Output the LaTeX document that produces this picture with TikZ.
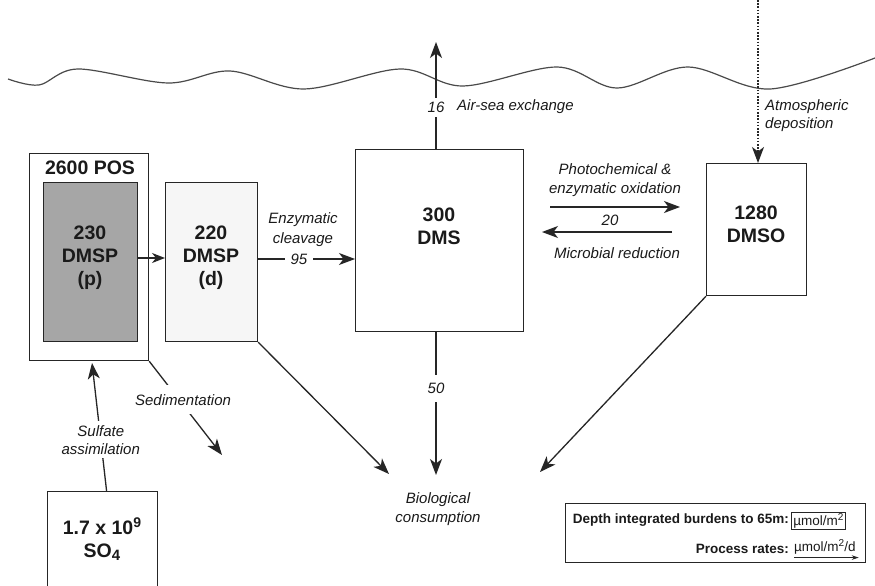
\documentclass[tikz,border=0pt]{standalone}
\usepackage{fontspec}
\setmainfont{Liberation Sans}
\usetikzlibrary{arrows.meta}
\definecolor{linec}{HTML}{262626}
\definecolor{shade}{HTML}{A6A6A6}
\definecolor{lightfill}{HTML}{F6F6F6}
\definecolor{txtc}{HTML}{1A1A1A}
\definecolor{wavec}{HTML}{4A4A4A}
\begin{document}
\begin{tikzpicture}[x=1pt,y=-1pt,
  box/.style={draw=linec, line width=1.2pt, inner sep=0pt, anchor=north west},
  boxtxt/.style={font=\fontsize{19.5}{23}\selectfont\bfseries, text=txtc, align=center, inner sep=0pt},
  arr/.style={-{Stealth[length=16pt,width=12pt,inset=4.5pt]}, line width=1.3pt, draw=linec},
  lbl/.style={font=\fontsize{15}{18.5}\selectfont\itshape, text=txtc, inner sep=1pt},
  onl/.style={lbl, fill=white, inner sep=4pt},
  legtxt/.style={font=\fontsize{13.5}{15}\selectfont\bfseries, text=txtc, inner sep=0pt},
  unittxt/.style={font=\fontsize{13.5}{15}\selectfont, text=txtc}
]
\fill[white] (0,0) rectangle (875,586);
\useasboundingbox (0,0) rectangle (875,586);

% sea surface
\draw[wavec, line width=1.2pt] plot[smooth, tension=0.55] coordinates
  {(8,79) (39,85) (78,69) (168,83) (230,71) (304,89) (400,69) (463,86) (557,67) (617,88) (688,67) (770,89) (875,58)};

% boxes
\node[box, minimum width=119pt, minimum height=207pt] (pos) at (29,153) {};
\node[box, fill=shade, minimum width=94pt, minimum height=159pt] (dmspp) at (43,182) {};
\node[box, fill=lightfill, minimum width=92pt, minimum height=159pt] (dmspd) at (165,182) {};
\node[box, minimum width=168pt, minimum height=182pt] (dms) at (355,149) {};
\node[box, minimum width=100pt, minimum height=132pt] (dmso) at (706,163) {};
\node[box, minimum width=110pt, minimum height=100pt] (so4) at (47,491) {};
\node[box, line width=1pt, minimum width=300pt, minimum height=59pt] (legend) at (565,503) {};

% box texts
\node[boxtxt] (posT) at (90,168) {2600 POS};
\node[boxtxt] (dmsppT) at (90,258) {230\\DMSP\\(p)};
\node[boxtxt] (dmspdT) at (211,258) {220\\DMSP\\(d)};
\node[boxtxt] (dmsT) at (439,226) {300\\DMS};
\node[boxtxt] (dmsoT) at (756,224) {1280\\DMSO};
\node[boxtxt] (so4T) at (102,539) {1.7 x 10\raisebox{7pt}{\fontsize{14}{14}\selectfont 9}\\SO\raisebox{-3pt}{\fontsize{15}{15}\selectfont 4}};

% DMSP(p) -> DMSP(d)
\draw[arr, -{Stealth[length=13pt,width=10pt,inset=4pt]}] (dmspp.east |- 0,258) -- (dmspd.west |- 0,258);

% enzymatic cleavage
\draw[arr] (dmspd.east |- 0,259) -- node[onl, pos=0.42, inner xsep=6pt, inner ysep=2pt] {95} (dms.west |- 0,259);
\node[lbl, align=center, font=\fontsize{15}{20}\selectfont\itshape] (enzT) at (303,230) {Enzymatic\\cleavage};

% oxidation / reduction
\coordinate (ox1) at (550,207);
\coordinate (ox2) at (680,207);
\draw[arr] (ox1) -- (ox2);
\coordinate (rd1) at (672,232);
\coordinate (rd2) at (542,232);
\draw[arr] (rd1) -- (rd2);
\node[lbl, align=center] (photoT) at (615,180) {Photochemical \&\\enzymatic oxidation};
\node[lbl] (twentyT) at (610,220) {20};
\node[lbl] (microT) at (617,253) {Microbial reduction};

% air-sea exchange
\coordinate (airTop) at (436,42);
\draw[arr] (dms.north -| airTop) -- node[onl, pos=0.39, inner ysep=4pt] {16} (airTop);
\node[lbl, anchor=west] (airT) at (456,107) {Air-sea exchange};

% atmospheric deposition
\coordinate (atmTop) at (758,0);
\draw[arr, line width=1.2pt, dash pattern=on 1.6pt off 1.6pt] (atmTop) -- (dmso.north -| atmTop);
\node[lbl, anchor=west, align=left, font=\fontsize{15}{18}\selectfont\itshape] (atmT) at (764,116) {Atmospheric\\deposition};

% biological consumption
\coordinate (bioTop) at (436,475);
\draw[arr] (dms.south -| bioTop) -- node[onl, pos=0.396, inner ysep=8pt] {50} (bioTop);
\coordinate (bioL) at (389,474);
\draw[arr] (dmspd.south east) -- (bioL);
\coordinate (bioR) at (540,472);
\draw[arr] (dmso.south west) -- (bioR);
\node[lbl, align=center] (bioT) at (438,509) {Biological\\consumption};

% sedimentation
\coordinate (sedEnd) at (222,455);
\draw[arr] (pos.south east) -- node[onl, pos=0.41, inner ysep=9pt, inner xsep=0pt, xshift=4pt] {Sedimentation} (sedEnd);

% sulfate assimilation
\coordinate (sulTop) at (92,363);
\draw[arr] ([xshift=4pt]so4.north) -- node[onl, pos=0.4, align=center, inner ysep=4pt, inner xsep=1pt, font=\fontsize{15}{18}\selectfont\itshape] {Sulfate\\assimilation} (sulTop);

% legend
\node[legtxt, anchor=east] (depthT) at (789,520) {Depth integrated burdens to 65m:};
\node[unittxt, draw=linec, line width=0.9pt, inner xsep=2pt, inner ysep=1.5pt, anchor=west] (unitBox) at (791,521) {µmol/m\raisebox{5pt}{\fontsize{10}{10}\selectfont 2}};
\node[legtxt, anchor=east] (procT) at (789,549) {Process rates:};
\node[unittxt, inner sep=0pt, anchor=west] (unitRate) at (794,547) {µmol/m\raisebox{5pt}{\fontsize{10}{10}\selectfont 2}/d};
\coordinate (rateA) at ([yshift=-3pt]unitRate.south west);
\coordinate (rateB) at ([yshift=-3pt,xshift=3pt]unitRate.south east);
\draw[line width=0.9pt, draw=linec, -{Stealth[length=7pt,width=4.5pt]}] (rateA) -- (rateB);
\end{tikzpicture}
\end{document}
